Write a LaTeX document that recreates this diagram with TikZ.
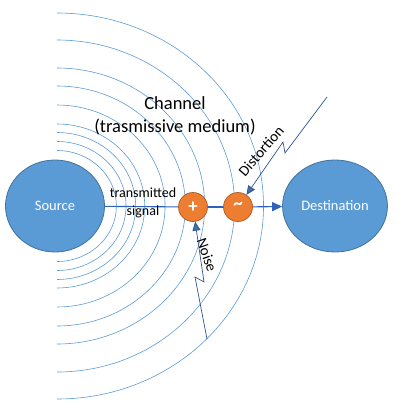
\documentclass[tikz,border=0pt]{standalone}
\usepackage{fontspec}
\setmainfont{Carlito}
\usetikzlibrary{arrows.meta}
\usetikzlibrary{shapes.geometric}
\definecolor{fillblue}{RGB}{91,155,213}
\definecolor{edgeblue}{RGB}{65,113,156}
\definecolor{fillorange}{RGB}{237,125,49}
\definecolor{edgeorange}{RGB}{174,90,33}
\definecolor{lineblue}{RGB}{47,98,186}
\definecolor{hitblue}{RGB}{46,84,150}
\newcommand*{\cx}{57}
\newcommand*{\cy}{206}
\newcommand*{\wv}{1.07}
\newcommand*{\wave}[1]{\draw [wave] (\cx,\cy-#1) arc [start angle=-90, end angle=90, x radius=\wv*#1, y radius=#1];}

\begin{document}
\begin{tikzpicture}[x=1pt, y=-1pt,
    wave/.style={draw=fillblue, line width=0.6pt},
    station/.style={ellipse, fill=fillblue, draw=edgeblue, line width=0.8pt, minimum width=99pt, minimum height=92pt, text=white, font=\fontsize{14.5}{17}\selectfont},
    mixer/.style={circle, fill=fillorange, draw=edgeorange, line width=0.7pt, minimum size=29pt, inner sep=0pt, text=white, font=\fontsize{19}{19}\selectfont\bfseries},
    signal/.style={draw=lineblue, line width=1.1pt},
    hit/.style={draw=hitblue, line width=0.7pt, -{Triangle[length=9pt, width=8pt, fill=edgeblue]}}]
    \useasboundingbox (0,0) rectangle (407,407);
        % waves of the channel
        \wave{193}
        \wave{166}
        \wave{138}
        \wave{120}
        \wave{101}
        \wave{82}
        \wave{73.5}
        \wave{64.5}
        \wave{55.5}
        \node [station] (src) at ( 55,206) {Source};
        \node [station] (dst) at (335,206) {Destination};
        \node [mixer] (plus)  at (193,207) {+};
        \node [mixer] (tilde) at (238,207) {\raisebox{3pt}{\char"007E}};
        \draw [signal] (src) -- (plus);
        \draw [signal] (plus) -- (tilde);
        \draw [signal, -{Triangle[length=10pt, width=9pt]}] (tilde) -- (dst);
        \node [align=center, font=\fontsize{14}{18}\selectfont] (sig) at (143,203) {transmitted\\signal};
        \node [align=center, font=\fontsize{18.5}{23}\selectfont] (chan) at (175,116) {Channel\\(trasmissive medium)};
        % distortion and noise
        \coordinate (dtop)   at (327, 97);
        \coordinate (dkinka) at (285,153);
        \coordinate (dkinkb) at (283,142);
        \draw [hit] (dtop) -- (dkinka) -- (dkinkb) -- (tilde);
        \coordinate (nbot)   at (207,339);
        \coordinate (nkinka) at (195,277);
        \coordinate (nkinkb) at (204,282);
        \draw [hit] (nbot) -- (nkinka) -- (nkinkb) -- (plus);
        \node [rotate=49,  font=\fontsize{15}{17}\selectfont] (dist)  at (261,151) {Distortion};
        \node [rotate=-71, font=\fontsize{15}{17}\selectfont] (noise) at (207,255) {Noise};
    \end{tikzpicture}
\end{document}
